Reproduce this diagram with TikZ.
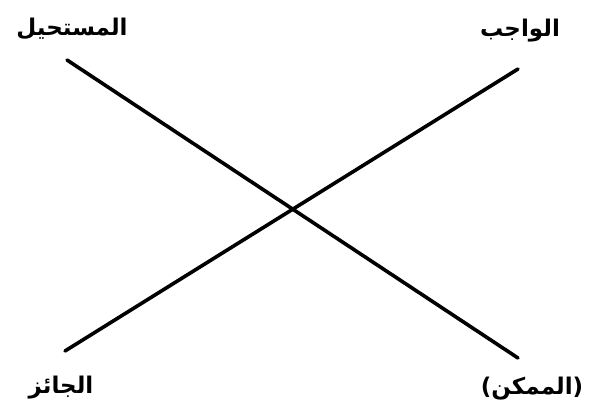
\documentclass[tikz,border=0pt]{standalone}
\usepackage{fontspec}
\newfontfamily\arabicfont[Script=Arabic]{DejaVu Sans}
\TeXXeTstate=1
\usetikzlibrary{positioning}

\begin{document}
\begin{tikzpicture}[
    x=1pt, y=-1pt,
    term/.style={
        inner sep=0pt,
        font=\arabicfont\bfseries\fontsize{23}{26}\selectfont
    },
    bar/.style={line width=3.6pt, line cap=round}
]
\useasboundingbox (0,0) rectangle (589,407);

\node[term] (mustahil) at (72,29) {\beginR المستحيل\endR};
\node[term] (wajib) at (520,31) {\beginR الواجب\endR};
\node[term] (jaiz) at (61,388) {\beginR الجائز\endR};
\node[term] (mumkin) at (532,389) {\beginR(الممكن)\endR};

\coordinate (a1) at (67,60);
\coordinate (a2) at (518,358);
\coordinate (b1) at (518,69);
\coordinate (b2) at (65,351);

\draw[bar] (a1) -- (a2);
\draw[bar] (b1) -- (b2);
\end{tikzpicture}
\end{document}
